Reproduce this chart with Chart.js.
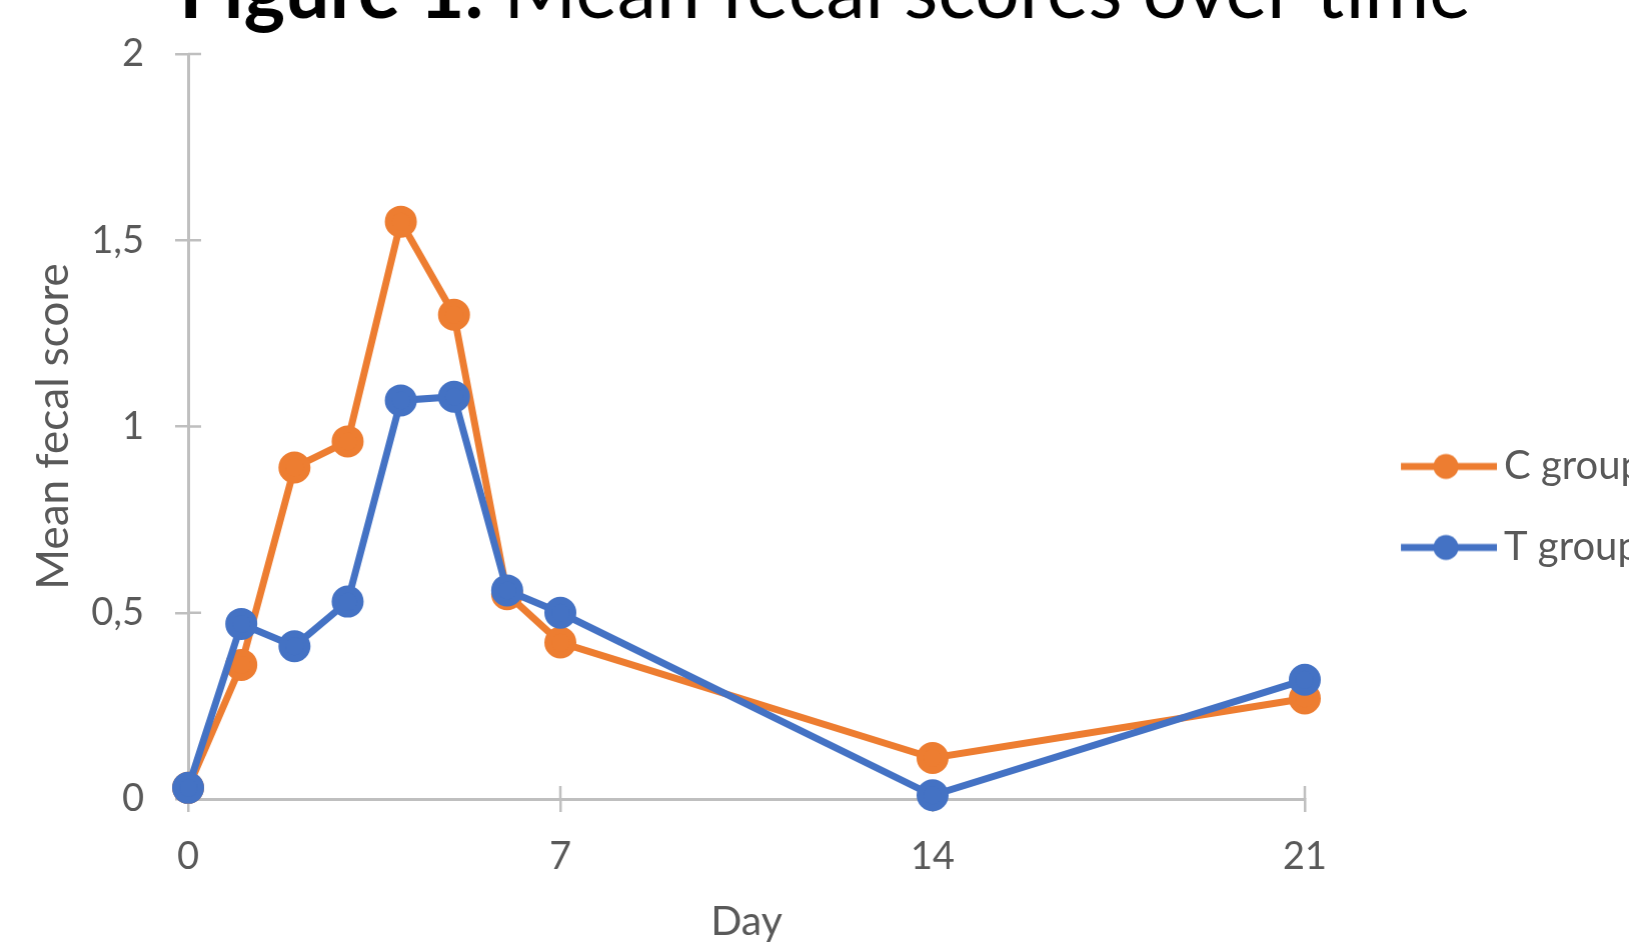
<!DOCTYPE html>
<html>
<head>
<meta charset="utf-8">
<title>Mean fecal scores over time</title>
<script src="https://cdn.jsdelivr.net/npm/chart.js@4/dist/chart.umd.min.js"></script>
<style>
  html, body { margin: 0; padding: 0; background: #ffffff; overflow: hidden; }
  #frame { position: relative; width: 1629px; height: 943px; overflow: hidden; }
  #holder { position: absolute; left: 0; top: 0; width: 1800px; height: 960px; }
</style>
</head>
<body>
<div id="frame"><div id="holder"><canvas id="chart"></canvas></div></div>
<script>
// Sampling days and mean fecal score per group
const days = [0, 1, 2, 3, 4, 5, 6, 7, 14, 21];
const cGroup = [0.03, 0.36, 0.89, 0.96, 1.55, 1.30, 0.55, 0.42, 0.11, 0.27];
const tGroup = [0.03, 0.47, 0.41, 0.53, 1.07, 1.08, 0.56, 0.50, 0.01, 0.32];
const seriesNames = ['C group', 'T group'];
const xTickValues = [0, 7, 14, 21];
const yTickValues = [0, 0.5, 1, 1.5, 2];
const titleBold = 'Figure 1.';
const titleRest = ' Mean fecal scores over time';
const xTitle = 'Day';
const yTitle = 'Mean fecal score';

const ORANGE = '#ED7D31';
const BLUE = '#4472C4';
const AXIS = '#BFBFBF';
const TEXT = '#595959';
const FONT = 'Lato, "Open Sans", "DejaVu Sans", sans-serif';

const CHART_LEFT = 188;
const CHART_RIGHT = 1304;
const CHART_BOTTOM = 799;
const CANVAS_H = 960;

// Legend icon: a line segment with a marker in the middle
function legendIcon(color) {
  const c = document.createElement('canvas');
  c.width = 164; c.height = 32;
  const g = c.getContext('2d');
  g.strokeStyle = color;
  g.lineWidth = 7;
  g.beginPath(); g.moveTo(68, 16); g.lineTo(164, 16); g.stroke();
  g.fillStyle = color;
  g.beginPath(); g.arc(113, 16, 12.5, 0, Math.PI * 2); g.fill();
  return c;
}
const icons = [legendIcon(ORANGE), legendIcon(BLUE)];

const points = vals => days.map((d, i) => ({ x: d, y: vals[i] }));

// Tick marks that cross the axis lines (inner half drawn here)
const crossTicks = {
  id: 'crossTicks',
  beforeDatasetsDraw(chart) {
    const { ctx, scales: { x, y } } = chart;
    ctx.save();
    ctx.strokeStyle = AXIS;
    ctx.lineWidth = 2.5;
    ctx.beginPath();
    yTickValues.forEach(v => {
      const py = y.getPixelForValue(v);
      ctx.moveTo(x.left, py); ctx.lineTo(x.left + 13, py);
    });
    xTickValues.forEach(v => {
      if (v === 0) return;
      const px = x.getPixelForValue(v);
      ctx.moveTo(px, y.bottom); ctx.lineTo(px, y.bottom - 13);
    });
    ctx.stroke();
    ctx.restore();
  }
};

// Heading, bold figure number followed by regular text
const heading = {
  id: 'heading',
  afterDraw(chart) {
    const ctx = chart.ctx;
    ctx.save();
    const startX = 179, targetW = 1291, baseY = 18;
    let size = 70;
    ctx.font = `bold ${size}px ${FONT}`;
    let w1 = ctx.measureText(titleBold).width;
    ctx.font = `${size}px ${FONT}`;
    let w2 = ctx.measureText(titleRest).width;
    size = size * targetW / (w1 + w2);
    ctx.textBaseline = 'alphabetic';
    ctx.textAlign = 'left';
    ctx.fillStyle = '#000000';
    ctx.font = `bold ${size}px ${FONT}`;
    w1 = ctx.measureText(titleBold).width;
    ctx.fillText(titleBold, startX, baseY);
    ctx.font = `${size}px ${FONT}`;
    ctx.fillText(titleRest, startX + w1, baseY);
    ctx.restore();
  }
};

const fmt = v => String(v).replace('.', ',');

const chart = new Chart(document.getElementById('chart'), {
  type: 'line',
  data: {
    datasets: [
      {
        label: seriesNames[0], data: points(cGroup),
        borderColor: ORANGE, backgroundColor: ORANGE,
        pointBackgroundColor: ORANGE, pointBorderColor: ORANGE,
        borderWidth: 7, pointRadius: 12.5, pointHoverRadius: 12.5,
        tension: 0, clip: false, order: 1
      },
      {
        label: seriesNames[1], data: points(tGroup),
        borderColor: BLUE, backgroundColor: BLUE,
        pointBackgroundColor: BLUE, pointBorderColor: BLUE,
        borderWidth: 7, pointRadius: 12.5, pointHoverRadius: 12.5,
        tension: 0, clip: false, order: 0
      }
    ]
  },
  options: {
    responsive: true,
    maintainAspectRatio: false,
    animation: false,
    events: [],
    layout: { padding: { top: 54, left: 0, right: 0, bottom: 0 } },
    plugins: {
      title: { display: false },
      tooltip: { enabled: false },
      legend: {
        display: true,
        position: 'right',
        align: 'center',
        labels: {
          usePointStyle: true,
          pointStyleWidth: 138,
          padding: 41,
          color: TEXT,
          font: { family: FONT, size: 40 },
          sort: (a, b) => a.datasetIndex - b.datasetIndex,
          generateLabels(ch) {
            return Chart.defaults.plugins.legend.labels.generateLabels(ch)
              .map(l => ({ ...l, pointStyle: icons[l.datasetIndex] }));
          }
        }
      }
    },
    scales: {
      x: {
        type: 'linear',
        min: 0, max: 21,
        afterBuildTicks: s => { s.ticks = xTickValues.map(v => ({ value: v })); },
        afterFit: s => { s.height = CANVAS_H - CHART_BOTTOM; },
        grid: { drawOnChartArea: false, drawTicks: true, tickLength: 13, color: AXIS, lineWidth: 2.5 },
        border: { display: true, color: AXIS, width: 3 },
        ticks: { color: TEXT, font: { family: FONT, size: 38 }, padding: 22, maxRotation: 0, callback: fmt },
        title: { display: true, text: xTitle, color: TEXT, font: { family: FONT, size: 41 }, padding: { top: 0, bottom: 14 } }
      },
      y: {
        type: 'linear',
        min: 0, max: 2,
        afterBuildTicks: s => { s.ticks = yTickValues.map(v => ({ value: v })); },
        afterFit: s => { s.width = CHART_LEFT; },
        grid: { drawOnChartArea: false, drawTicks: true, tickLength: 13, color: AXIS, lineWidth: 2.5 },
        border: { display: true, color: AXIS, width: 3 },
        ticks: { color: TEXT, font: { family: FONT, size: 38 }, padding: 31, callback: fmt },
        title: { display: true, text: yTitle, color: TEXT, font: { family: FONT, size: 44 }, padding: { top: 27, bottom: 0 } }
      }
    }
  },
  plugins: [crossTicks, heading]
});

// Size the canvas so the plot area ends at the day-21 tick
const holder = document.getElementById('holder');
holder.style.width = (CHART_RIGHT + chart.legend.width) + 'px';
chart.resize();
</script>
</body>
</html>
